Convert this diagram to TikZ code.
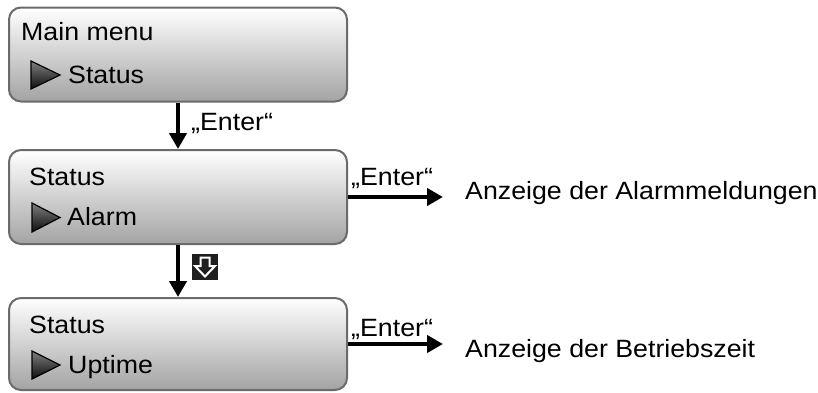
\documentclass[tikz,border=0pt]{standalone}
\usepackage{fontspec}
\setmainfont[FakeStretch=1.07]{Liberation Sans}
\usetikzlibrary{arrows.meta}
\begin{document}
\begin{tikzpicture}[x=1pt,y=-1pt,
  menubox/.style={draw=black!58, line width=2pt, rounded corners=12pt,
    top color=white, bottom color=black!36, minimum width=338pt,
    minimum height=94pt, inner sep=0pt},
  txt/.style={font=\fontsize{25}{30}\selectfont, inner sep=0pt, anchor=base west},
  arr/.style={line width=4.5pt, -{Triangle[length=16pt,width=17pt]}},
  marker/.style={draw=black, line width=1.2pt, top color=black!50, bottom color=black!95}
]
\useasboundingbox (0,0) rectangle (818,392);
% boxes
\node[menubox] (box1) at (178,54.5) {};
\node[menubox] (box2) at (178,197) {};
\node[menubox, minimum height=92pt] (box3) at (178,344) {};
% texts in boxes
\node[txt] (m1) at (21,40) {Main menu};
\node[txt] (s1) at (68,83) {Status};
\node[txt] (m2) at (29,185) {Status};
\node[txt] (s2) at (67,225) {Alarm};
\node[txt] (m3) at (29,333) {Status};
\node[txt] (s3) at (68,373) {Uptime};
% markers
\shade[marker] (31,61) -- (60,75) -- (31,89) -- cycle;
\shade[marker] (32,203) -- (60,217.5) -- (32,232) -- cycle;
\shade[marker] (32,351) -- (60,365) -- (32,379) -- cycle;
% vertical connectors
\draw[arr] (box1.south) -- (box2.north);
\node[txt] (e1) at (191,130) {„Enter“};
\draw[arr] (box2.south) -- (box3.north);
% down key icon
\node[fill=black!88, minimum size=26pt, inner sep=0pt] (key) at (205,267) {};
\draw[white, line width=2pt, line join=miter]
  ([shift={(-4.5,-9.5)}]key.center) -- ([shift={(4.5,-9.5)}]key.center) --
  ([shift={(4.5,-1)}]key.center) -- ([shift={(10,-1)}]key.center) --
  ([shift={(0,9.5)}]key.center) -- ([shift={(-10,-1)}]key.center) --
  ([shift={(-4.5,-1)}]key.center) -- cycle;
% horizontal connectors
\coordinate (end2) at (443,197);
\coordinate (end3) at (443,344);
\draw[arr] (box2.east) -- (end2);
\draw[arr] (box3.east) -- (end3);
\node[txt] (e2) at (351,185) {„Enter“};
\node[txt] (e3) at (351,336) {„Enter“};
\node[txt] (t2) at (465,199) {Anzeige der Alarmmeldungen};
\node[txt] (t3) at (465,357) {Anzeige der Betriebszeit};
\end{tikzpicture}
\end{document}
